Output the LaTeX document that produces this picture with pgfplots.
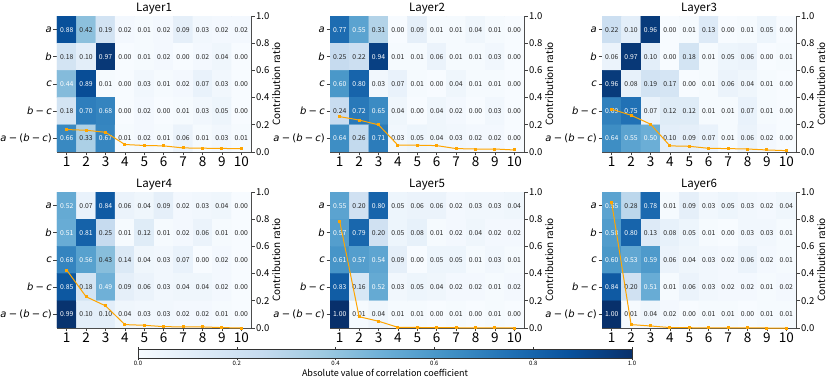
\documentclass[border=0pt]{standalone}
\usepackage{fontspec}
\setmainfont{Noto Sans CJK JP}
\newfontfamily\dv{DejaVu Sans}
\usepackage{pgfplots}
\usepackage{pgfplotstable}
\pgfplotsset{compat=1.18}
\pgfkeys{/pgf/number format/assume math mode=true}
\definecolor{lblgray}{RGB}{38,38,38}
\definecolor{ora}{RGB}{255,165,0}
\newcommand\mi[1]{{\itshape #1}}
\newcommand\mm{\hspace{0.22em}−\hspace{0.22em}}

\pgfplotsset{
 colormap={mblues}{rgb255=(247,251,255) rgb255=(222,235,247) rgb255=(198,219,239) rgb255=(158,202,225) rgb255=(107,174,214) rgb255=(66,146,198) rgb255=(33,113,181) rgb255=(8,81,156) rgb255=(8,48,107)},
 hm/.style={width=194pt, height=136pt, scale only axis,
  xmin=0.5, xmax=10.5, ymin=-0.5, ymax=4.5, y dir=reverse,
  xtick={1,...,10}, ytick={0,...,4},
  yticklabels={\mi{a},\mi{b},\mi{c},\mi{b}\mm\mi{c},\mi{a}\mm(\mi{b}\mm\mi{c})},
  tick align=outside, tick pos=left, major tick length=3.5pt,
  tick style={black!75, line width=0.7pt},
  axis line style={black!70, line width=0.7pt},
  xticklabel style={font=\fontsize{13.5}{14}\selectfont, inner sep=1pt},
  yticklabel style={font=\dv\fontsize{10}{12}\selectfont, inner sep=1.5pt},
  title style={font=\fontsize{11.5}{12}\selectfont, inner sep=0pt, yshift=-4.5pt},
  colormap name=mblues, point meta min=0, point meta max=1},
 tw/.style={width=194pt, height=136pt, scale only axis,
  xmin=0.5, xmax=10.5, ymin=0, ymax=1,
  axis x line=none, axis y line*=right,
  ytick={0,0.2,0.4,0.6,0.8,1},
  yticklabel={\pgfmathprintnumber[fixed,fixed zerofill,precision=1]{\tick}},
  tick align=outside, major tick length=3.5pt,
  tick style={black!75, line width=0.7pt},
  axis line style={black!70, line width=0.7pt},
  yticklabel style={font=\fontsize{9.5}{10}\selectfont, inner sep=1.5pt},
  ylabel={Contribution ratio},
  ylabel style={font=\fontsize{10}{11}\selectfont, inner sep=1pt}},
}

\pgfplotstableread{
x y v
1 0 0.88
2 0 0.42
3 0 0.19
4 0 0.02
5 0 0.01
6 0 0.02
7 0 0.09
8 0 0.03
9 0 0.02
10 0 0.02
1 1 0.18
2 1 0.10
3 1 0.97
4 1 0.00
5 1 0.01
6 1 0.02
7 1 0.00
8 1 0.02
9 1 0.04
10 1 0.00
1 2 0.44
2 2 0.89
3 2 0.01
4 2 0.00
5 2 0.03
6 2 0.01
7 2 0.02
8 2 0.07
9 2 0.03
10 2 0.00
1 3 0.18
2 3 0.70
3 3 0.68
4 3 0.00
5 3 0.02
6 3 0.00
7 3 0.01
8 3 0.03
9 3 0.05
10 3 0.00
1 4 0.66
2 4 0.33
3 4 0.67
4 4 0.01
5 4 0.02
6 4 0.01
7 4 0.06
8 4 0.01
9 4 0.03
10 4 0.01
}\LA
\pgfplotstableread{
x y v
1 0 0.77
2 0 0.55
3 0 0.31
4 0 0.00
5 0 0.09
6 0 0.01
7 0 0.01
8 0 0.04
9 0 0.01
10 0 0.00
1 1 0.25
2 1 0.22
3 1 0.94
4 1 0.01
5 1 0.01
6 1 0.06
7 1 0.01
8 1 0.01
9 1 0.03
10 1 0.00
1 2 0.60
2 2 0.80
3 2 0.03
4 2 0.07
5 2 0.01
6 2 0.00
7 2 0.04
8 2 0.01
9 2 0.01
10 2 0.00
1 3 0.24
2 3 0.72
3 3 0.65
4 3 0.04
5 3 0.00
6 3 0.04
7 3 0.02
8 3 0.00
9 3 0.03
10 3 0.00
1 4 0.64
2 4 0.26
3 4 0.71
4 4 0.03
5 4 0.05
6 4 0.04
7 4 0.03
8 4 0.02
9 4 0.02
10 4 0.00
}\LB
\pgfplotstableread{
x y v
1 0 0.22
2 0 0.10
3 0 0.96
4 0 0.00
5 0 0.01
6 0 0.13
7 0 0.00
8 0 0.01
9 0 0.05
10 0 0.00
1 1 0.06
2 1 0.97
3 1 0.10
4 1 0.00
5 1 0.18
6 1 0.01
7 1 0.05
8 1 0.06
9 1 0.00
10 1 0.01
1 2 0.96
2 2 0.08
3 2 0.19
4 2 0.17
5 2 0.00
6 2 0.01
7 2 0.06
8 2 0.04
9 2 0.01
10 2 0.00
1 3 0.69
2 3 0.75
3 3 0.07
4 3 0.12
5 3 0.12
6 3 0.01
7 3 0.01
8 3 0.07
9 3 0.01
10 3 0.00
1 4 0.64
2 4 0.55
3 4 0.50
4 4 0.10
5 4 0.09
6 4 0.07
7 4 0.01
8 4 0.06
9 4 0.02
10 4 0.00
}\LC
\pgfplotstableread{
x y v
1 0 0.52
2 0 0.07
3 0 0.84
4 0 0.06
5 0 0.04
6 0 0.09
7 0 0.02
8 0 0.03
9 0 0.04
10 0 0.00
1 1 0.51
2 1 0.81
3 1 0.25
4 1 0.01
5 1 0.12
6 1 0.01
7 1 0.02
8 1 0.06
9 1 0.01
10 1 0.00
1 2 0.68
2 2 0.56
3 2 0.43
4 2 0.14
5 2 0.04
6 2 0.03
7 2 0.07
8 2 0.00
9 2 0.02
10 2 0.00
1 3 0.85
2 3 0.18
3 3 0.49
4 3 0.09
5 3 0.06
6 3 0.03
7 3 0.04
8 3 0.04
9 3 0.02
10 3 0.00
1 4 0.99
2 4 0.10
3 4 0.10
4 4 0.04
5 4 0.03
6 4 0.03
7 4 0.02
8 4 0.02
9 4 0.01
10 4 0.00
}\LD
\pgfplotstableread{
x y v
1 0 0.55
2 0 0.20
3 0 0.80
4 0 0.05
5 0 0.06
6 0 0.06
7 0 0.02
8 0 0.03
9 0 0.03
10 0 0.04
1 1 0.57
2 1 0.79
3 1 0.20
4 1 0.05
5 1 0.08
6 1 0.01
7 1 0.02
8 1 0.04
9 1 0.02
10 1 0.02
1 2 0.61
2 2 0.57
3 2 0.54
4 2 0.09
5 2 0.00
6 2 0.05
7 2 0.05
8 2 0.01
9 2 0.03
10 2 0.01
1 3 0.83
2 3 0.16
3 3 0.52
4 3 0.03
5 3 0.05
6 3 0.04
7 3 0.02
8 3 0.02
9 3 0.01
10 3 0.02
1 4 1.00
2 4 0.01
3 4 0.04
4 4 0.01
5 4 0.01
6 4 0.00
7 4 0.01
8 4 0.00
9 4 0.01
10 4 0.00
}\LE
\pgfplotstableread{
x y v
1 0 0.55
2 0 0.28
3 0 0.78
4 0 0.01
5 0 0.09
6 0 0.03
7 0 0.05
8 0 0.03
9 0 0.02
10 0 0.04
1 1 0.58
2 1 0.80
3 1 0.13
4 1 0.08
5 1 0.05
6 1 0.01
7 1 0.00
8 1 0.03
9 1 0.03
10 1 0.01
1 2 0.60
2 2 0.53
3 2 0.59
4 2 0.06
5 2 0.04
6 2 0.03
7 2 0.02
8 2 0.06
9 2 0.02
10 2 0.01
1 3 0.84
2 3 0.20
3 3 0.51
4 3 0.01
5 3 0.06
6 3 0.03
7 3 0.02
8 3 0.02
9 3 0.01
10 3 0.02
1 4 1.00
2 4 0.01
3 4 0.04
4 4 0.02
5 4 0.00
6 4 0.01
7 4 0.01
8 4 0.00
9 4 0.01
10 4 0.01
}\LF

\newcommand\panel[5]{%
 \begin{axis}[hm, at={(#1pt,#2pt)}, anchor=north west, title={#4}]
  \addplot[matrix plot*, mesh/cols=10, point meta=explicit]
   table[x=x, y=y, meta=v]{#3};
  \addplot[only marks, mark=*, mark size=0pt, mark options={draw=none,fill=none},
   point meta=explicit,
   nodes near coords={\ifdim\pgfplotspointmetatransformed pt>435pt\color{white}\else\color{lblgray}\fi\pgfmathprintnumber[fixed,fixed zerofill,precision=2]{\pgfplotspointmeta}},
   every node near coord/.append style={anchor=center, inner sep=0pt, font=\fontsize{6.8}{7}\selectfont}]
   table[x=x, y=y, meta=v]{#3};
 \end{axis}
 \begin{axis}[tw, at={(#1pt,#2pt)}, anchor=north west]
  \addplot[ora, line width=1pt, mark=square*, mark size=1pt] coordinates {#5};
 \end{axis}}

\begin{document}
\begin{tikzpicture}
\path[use as bounding box] (0,0) rectangle (831pt,384pt);
\panel{57}{368}{\LA}{Layer1}{(1,0.165) (2,0.16) (3,0.145) (4,0.055) (5,0.048) (6,0.045) (7,0.03) (8,0.028) (9,0.026) (10,0.025)}
\panel{330}{368}{\LB}{Layer2}{(1,0.26) (2,0.235) (3,0.20) (4,0.05) (5,0.05) (6,0.047) (7,0.025) (8,0.022) (9,0.022) (10,0.015)}
\panel{602}{368}{\LC}{Layer3}{(1,0.315) (2,0.27) (3,0.205) (4,0.045) (5,0.042) (6,0.027) (7,0.025) (8,0.022) (9,0.015) (10,0.01)}
\panel{57}{192}{\LD}{Layer4}{(1,0.426) (2,0.23) (3,0.163) (4,0.025) (5,0.02) (6,0.01) (7,0.008) (8,0.008) (9,0.003) (10,0.0)}
\panel{330}{192}{\LE}{Layer5}{(1,0.785) (2,0.083) (3,0.05) (4,0.005) (5,0.004) (6,0.002) (7,0.002) (8,0.001) (9,0.001) (10,0.0)}
\panel{602}{192}{\LF}{Layer6}{(1,0.92) (2,0.025) (3,0.015) (4,0.003) (5,0.002) (6,0.001) (7,0.001) (8,0.001) (9,0.0) (10,0.0)}
\begin{axis}[at={(138pt,26pt)}, anchor=south west, width=494pt, height=9pt, scale only axis,
  view={0}{90}, xmin=0, xmax=1, ymin=0, ymax=1, ytick=\empty, ztick=\empty,
  xtick={0,0.2,0.4,0.6,0.8,1},
  xticklabel={\pgfmathprintnumber[fixed,fixed zerofill,precision=1]{\tick}},
  xticklabel style={font=\fontsize{6}{7}\selectfont, inner sep=1pt},
  tick align=outside, major tick length=2pt, tick style={black!80, line width=0.5pt},
  xlabel={Absolute value of correlation coefficient},
  xlabel style={font=\fontsize{9}{10}\selectfont, inner sep=1pt, yshift=-1pt},
  colormap name=mblues, point meta min=0, point meta max=1,
  axis line style={black!80, line width=0.5pt}]
 \addplot3[surf, shader=interp, point meta=x, mesh/rows=2] coordinates {
  (0,0,0) (0.125,0,0) (0.25,0,0) (0.375,0,0) (0.5,0,0) (0.625,0,0) (0.75,0,0) (0.875,0,0) (1,0,0)
  (0,1,0) (0.125,1,0) (0.25,1,0) (0.375,1,0) (0.5,1,0) (0.625,1,0) (0.75,1,0) (0.875,1,0) (1,1,0)};
\end{axis}
\end{tikzpicture}
\end{document}
